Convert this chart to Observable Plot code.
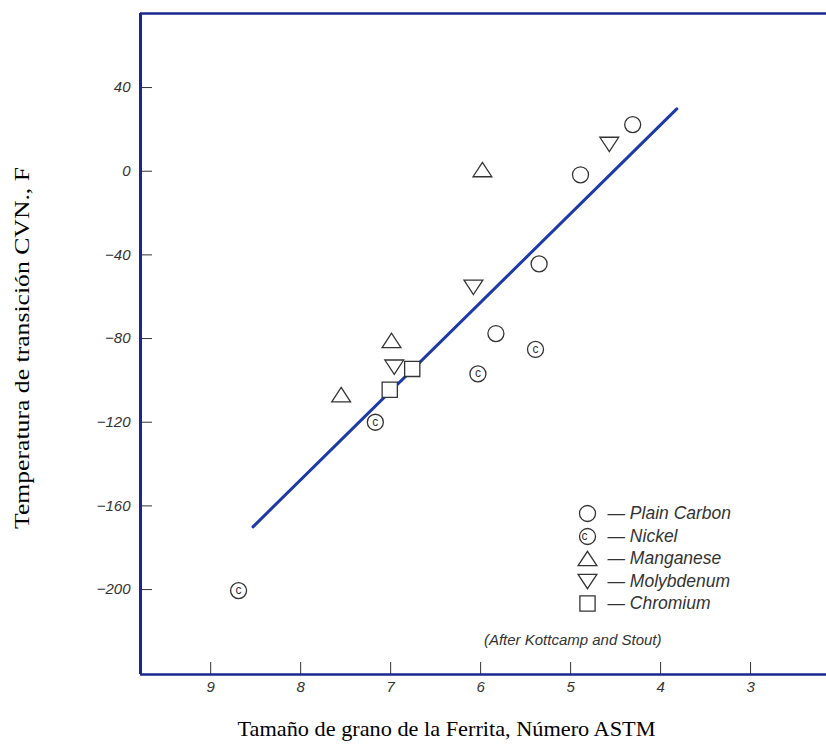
<!DOCTYPE html>
<html>
<head>
<meta charset="utf-8">
<script src="https://cdn.jsdelivr.net/npm/d3@7"></script>
<script src="https://cdn.jsdelivr.net/npm/@observablehq/plot@0.6"></script>
<style>
  html, body { margin: 0; padding: 0; background: #fff; }
  #chart svg { display: block; }
</style>
</head>
<body>
<div id="chart"></div>
<script>
// ---- data ----
const plainCarbonX = [4.31, 4.89, 5.35, 5.83];
const plainCarbonY = [22.3, -1.7, -44.3, -77.6];
const nickelX = [5.39, 6.03, 7.17, 8.69];
const nickelY = [-85.2, -96.9, -120, -200.5];
const manganeseX = [5.98, 6.99, 7.55];
const manganeseY = [0.8, -80.9, -106.8];
const molybdenumX = [4.57, 6.08, 6.96];
const molybdenumY = [12.8, -55.5, -93.7];
const chromiumX = [6.76, 7.01];
const chromiumY = [-94.5, -104.5];
const fitX = [8.53, 3.82];
const fitY = [-170, 29.8];
const xTicks = [9, 8, 7, 6, 5, 4, 3];
const yTicks = [40, 0, -40, -80, -120, -160, -200];
const xDomain = [9.78, 2.156];
const yDomain = [-240.6, 75.4];
const legendLabels = ["Plain Carbon", "Nickel", "Manganese", "Molybdenum", "Chromium"];
const note = "(After Kottcamp and Stout)";
const xTitle = "Tamaño de grano de la Ferrita, Número ASTM";
const yTitle = "Temperatura de transición CVN., F";

const zip = (xs, ys) => xs.map((x, i) => ({x, y: ys[i]}));

// ---- symbols ----
const rOf = s => Math.sqrt(s / Math.PI);
const triUp = {draw(c, s) { const r = rOf(s), w = 2.35 * r, h = 1.8 * r;
  c.moveTo(0, -h / 2); c.lineTo(w / 2, h / 2); c.lineTo(-w / 2, h / 2); c.closePath(); }};
const triDown = {draw(c, s) { const r = rOf(s), w = 2.35 * r, h = 1.8 * r;
  c.moveTo(0, h / 2); c.lineTo(w / 2, -h / 2); c.lineTo(-w / 2, -h / 2); c.closePath(); }};
const sq = {draw(c, s) { const r = rOf(s), a = 0.95 * r; c.rect(-a, -a, 2 * a, 2 * a); }};
const circ = {draw(c, s) { const r = rOf(s); c.moveTo(r, 0); c.arc(0, 0, r, 0, 2 * Math.PI); }};

const symStyle = {stroke: "#333", strokeWidth: 1.3, fill: "white"};
const navy = "#1b2690";
const sans = "Liberation Sans, Arial, sans-serif";
const serif = "Liberation Serif, Times New Roman, serif";
const fmt = d => d < 0 ? "\u2212" + Math.abs(d) : String(d);

const legendSyms = [circ, circ, triUp, triDown, sq];
const legendDy = [-161, -138, -116, -93, -71];
const legendMarks = [];
legendLabels.forEach((lab, i) => {
  legendMarks.push(Plot.dot([0], {frameAnchor: "bottom-right", dx: -239, dy: legendDy[i], r: 8, symbol: legendSyms[i], ...symStyle}));
  if (i === 1) legendMarks.push(Plot.text(["c"], {frameAnchor: "bottom-right", dx: -239, dy: legendDy[i] - 0.5, lineAnchor: "middle", fontSize: 12, fill: "#333", fontFamily: sans}));
  legendMarks.push(Plot.text(["\u2014 " + lab], {frameAnchor: "bottom-right", dx: -219, dy: legendDy[i], lineAnchor: "middle", textAnchor: "start", fontSize: 17.5, fontStyle: "italic", fill: "#333", fontFamily: sans}));
});

const chart = Plot.plot({
  width: 826,
  height: 745,
  marginLeft: 140,
  marginRight: 0,
  marginTop: 13,
  marginBottom: 71,
  style: {background: "white", overflow: "visible"},
  x: {domain: xDomain, ticks: xTicks},
  y: {domain: yDomain, ticks: yTicks},
  marks: [
    Plot.axisX(xTicks, {anchor: "bottom", tickSize: -12, tickPadding: 19, tickFormat: fmt, fontSize: 15, fontStyle: "italic", color: "#333", fontFamily: sans, label: null}),
    Plot.axisY(yTicks, {anchor: "left", tickSize: -12, tickPadding: 22, tickFormat: fmt, fontSize: 15, fontStyle: "italic", color: "#333", fontFamily: sans, label: null}),
    Plot.ruleX([xDomain[0]], {stroke: navy, strokeWidth: 3}),
    Plot.ruleY([yDomain[0]], {stroke: navy, strokeWidth: 2.5}),
    Plot.ruleY([yDomain[1]], {stroke: navy, strokeWidth: 2.5}),
    Plot.line(zip(fitX, fitY), {x: "x", y: "y", stroke: "#1d3aa8", strokeWidth: 3}),
    Plot.dot(zip(plainCarbonX, plainCarbonY), {x: "x", y: "y", r: 8, symbol: circ, ...symStyle}),
    Plot.dot(zip(nickelX, nickelY), {x: "x", y: "y", r: 8, symbol: circ, ...symStyle}),
    Plot.text(zip(nickelX, nickelY), {x: "x", y: "y", text: () => "c", dy: -0.5, fontSize: 12, fill: "#333", fontFamily: sans}),
    Plot.dot(zip(manganeseX, manganeseY), {x: "x", y: "y", r: 8, symbol: triUp, ...symStyle}),
    Plot.dot(zip(molybdenumX, molybdenumY), {x: "x", y: "y", r: 8, symbol: triDown, ...symStyle}),
    Plot.dot(zip(chromiumX, chromiumY), {x: "x", y: "y", r: 8, symbol: sq, ...symStyle}),
    ...legendMarks,
    Plot.text([note], {frameAnchor: "bottom-right", dx: -165, dy: -34, lineAnchor: "middle", fontSize: 15, fontStyle: "italic", fill: "#333", fontFamily: sans}),
    Plot.text([xTitle], {frameAnchor: "bottom", dx: -37, dy: 54, lineAnchor: "middle", textAnchor: "middle", fontSize: 22, fill: "black", fontFamily: serif}),
    Plot.text([yTitle], {frameAnchor: "left", dx: -118, dy: 4, rotate: -90, lineAnchor: "middle", textAnchor: "middle", fontSize: 21, fill: "black", fontFamily: serif})
  ]
});
// stretch the titles to the reference's text lengths
d3.select(chart).selectAll("text").each(function() {
  if (this.textContent === xTitle) { this.setAttribute("textLength", 418); this.setAttribute("lengthAdjust", "spacingAndGlyphs"); }
  if (this.textContent === yTitle) { this.setAttribute("textLength", 362); this.setAttribute("lengthAdjust", "spacingAndGlyphs"); }
});
document.getElementById("chart").appendChild(chart);
</script>
</body>
</html>
